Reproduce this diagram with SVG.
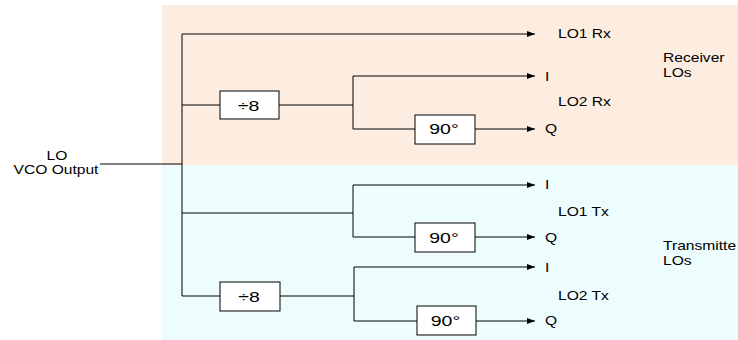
<svg xmlns="http://www.w3.org/2000/svg" width="738" height="340" viewBox="0 0 738 340">
<style>
.bg-rx{fill:#fdede0}
.bg-tx{fill:#edfcfd}
.box{fill:#ffffff;stroke:#000;stroke-width:1}
.wire{fill:none;stroke:#000;stroke-width:1}
.lbl{font-family:"Liberation Sans",Arial,sans-serif;font-size:12px;fill:#000}
.blbl{font-family:"Liberation Sans",Arial,sans-serif;font-size:15px;fill:#000;text-anchor:middle}
.mid{text-anchor:middle}
</style>
<defs>
<marker id="arr" markerUnits="userSpaceOnUse" markerWidth="9" markerHeight="7" refX="8" refY="3" orient="auto">
<path d="M0,0 L8,3 L0,6 z" fill="#000"/>
</marker>
</defs>
<g id="background">
<rect class="bg-rx" x="162" y="5" width="576" height="160"/>
<rect class="bg-tx" x="162" y="165" width="576" height="175"/>
</g>
<g id="connectors">
<path class="wire" d="M100,164 H182"/>
<path class="wire" d="M182,34 V296"/>
<path class="wire" d="M182,34 H535" marker-end="url(#arr)"/>
<path class="wire" d="M182,105 H220"/>
<path class="wire" d="M279,105 H353"/>
<path class="wire" d="M353,76 V129"/>
<path class="wire" d="M353,76 H535" marker-end="url(#arr)"/>
<path class="wire" d="M353,129 H415"/>
<path class="wire" d="M475,129 H535" marker-end="url(#arr)"/>
<path class="wire" d="M182,213 H353"/>
<path class="wire" d="M353,185 V237"/>
<path class="wire" d="M353,185 H535" marker-end="url(#arr)"/>
<path class="wire" d="M353,237 H415"/>
<path class="wire" d="M475,237 H535" marker-end="url(#arr)"/>
<path class="wire" d="M182,296 H220"/>
<path class="wire" d="M280,296 H354"/>
<path class="wire" d="M354,267 V321"/>
<path class="wire" d="M354,267 H535" marker-end="url(#arr)"/>
<path class="wire" d="M354,321 H417"/>
<path class="wire" d="M476,321 H535" marker-end="url(#arr)"/>
</g>
<g id="div8-rx">
<rect class="box" x="220" y="91" width="59" height="28"/>
<text class="blbl" transform="translate(248.5,110.5) scale(1.3,1)">÷8</text>
</g>
<g id="phase90-rx">
<rect class="box" x="415" y="115" width="60" height="29"/>
<text class="blbl" transform="translate(444,133.5) scale(1.3,1)">90°</text>
</g>
<g id="phase90-tx1">
<rect class="box" x="415" y="223" width="60" height="29"/>
<text class="blbl" transform="translate(444,242.5) scale(1.3,1)">90°</text>
</g>
<g id="div8-tx">
<rect class="box" x="220" y="282" width="60" height="29"/>
<text class="blbl" transform="translate(249,301.5) scale(1.3,1)">÷8</text>
</g>
<g id="phase90-tx2">
<rect class="box" x="417" y="306" width="59" height="29"/>
<text class="blbl" transform="translate(445.5,326) scale(1.3,1)">90°</text>
</g>
<g id="vco-label">
<text class="lbl mid" transform="translate(57,160) scale(1.3,1)">LO</text>
<text class="lbl mid" transform="translate(56,174) scale(1.3,1)">VCO Output</text>
</g>
<g id="rx-outputs">
<text class="lbl" transform="translate(558,37.5) scale(1.3,1)">LO1 Rx</text>
<text class="lbl" transform="translate(545,80.5) scale(1.3,1)">I</text>
<text class="lbl" transform="translate(558,106) scale(1.3,1)">LO2 Rx</text>
<text class="lbl" transform="translate(545,133) scale(1.3,1)">Q</text>
<text class="lbl" transform="translate(663,62) scale(1.3,1)">Receiver</text>
<text class="lbl" transform="translate(663,76.5) scale(1.3,1)">LOs</text>
</g>
<g id="tx-outputs">
<text class="lbl" transform="translate(545,189) scale(1.3,1)">I</text>
<text class="lbl" transform="translate(558,216) scale(1.3,1)">LO1 Tx</text>
<text class="lbl" transform="translate(545,241.5) scale(1.3,1)">Q</text>
<text class="lbl" transform="translate(545,271.5) scale(1.3,1)">I</text>
<text class="lbl" transform="translate(558,299.5) scale(1.3,1)">LO2 Tx</text>
<text class="lbl" transform="translate(545,325) scale(1.3,1)">Q</text>
<text class="lbl" transform="translate(663,250) scale(1.3,1)">Transmitte</text>
<text class="lbl" transform="translate(663,264.5) scale(1.3,1)">LOs</text>
</g>
</svg>
